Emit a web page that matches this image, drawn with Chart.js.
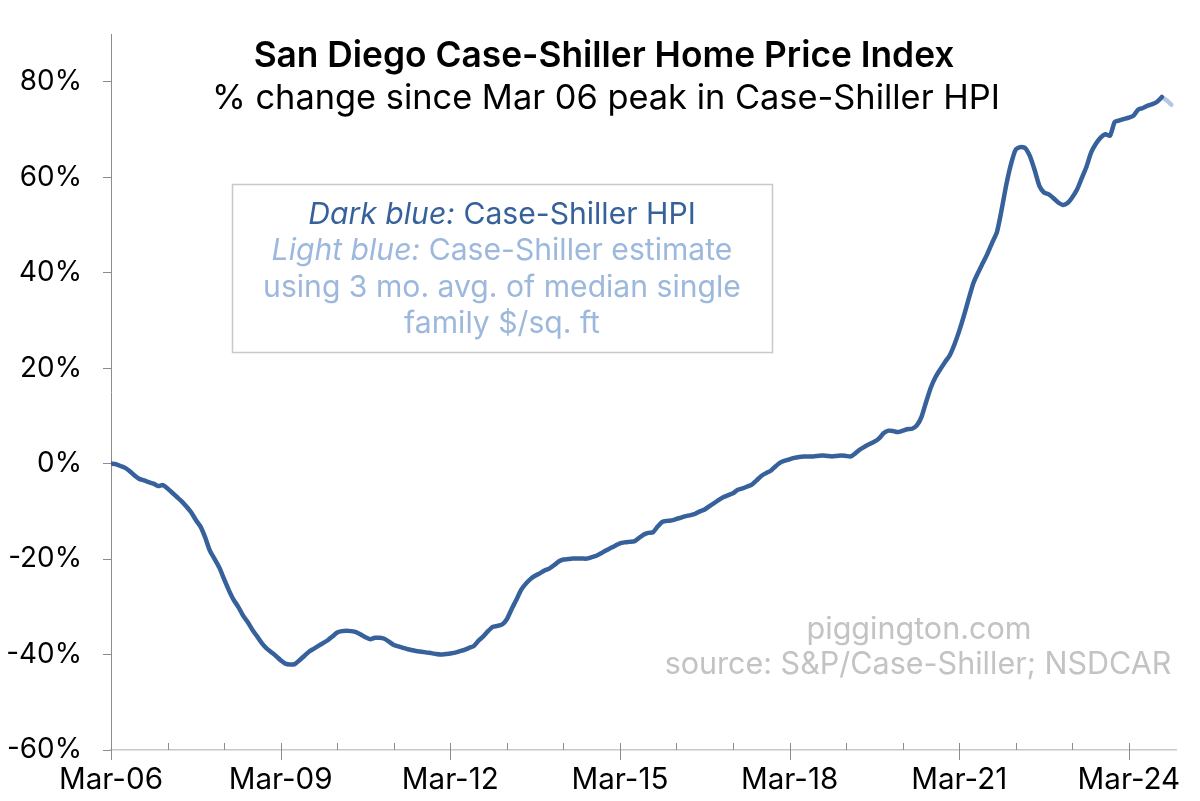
<!DOCTYPE html>
<html>
<head>
<meta charset="utf-8">
<script src="https://cdn.jsdelivr.net/npm/chart.js@4/dist/chart.umd.min.js"></script>
<style>
html,body{margin:0;padding:0;background:#fff;}
#wrap{width:1200px;height:801px;position:relative;}
</style>
</head>
<body>
<div id="wrap"><canvas id="c" width="1200" height="801"></canvas></div>
<script>
// ---------- DATA ----------
const startYear = 2006, startMonthIdx = 2; // March 2006
const monthNames = ['Jan','Feb','Mar','Apr','May','Jun','Jul','Aug','Sep','Oct','Nov','Dec'];
const categories = [];
for (let i = 0; i <= 226; i++) {
  const m = (startMonthIdx + i) % 12, y = startYear + Math.floor((startMonthIdx + i) / 12);
  categories.push(monthNames[m] + '-' + String(y % 100).padStart(2, '0'));
}
// Case-Shiller HPI, % change since Mar 06 peak (monthly, Mar-06 .. Oct-24)
const hpi = [
  0.0,-0.1,-0.5,-0.9,-1.6,-2.5,-3.2,-3.5,-3.9,-4.2,-4.7,-4.5,
  -5.2,-6.1,-7.0,-7.9,-9.0,-10.2,-11.8,-13.2,-15.5,-18.3,-20.0,-21.8,
  -24.2,-26.5,-28.5,-30.0,-31.8,-33.2,-34.8,-36.2,-37.6,-38.7,-39.5,-40.3,
  -41.2,-41.9,-42.1,-42.0,-41.2,-40.3,-39.4,-38.8,-38.2,-37.6,-37.0,-36.2,
  -35.4,-35.1,-35.0,-35.1,-35.3,-35.8,-36.4,-36.8,-36.5,-36.5,-36.7,-37.3,
  -38.0,-38.3,-38.6,-38.9,-39.1,-39.3,-39.4,-39.6,-39.7,-39.9,-40.0,-39.9,
  -39.8,-39.6,-39.3,-39.0,-38.6,-38.2,-37.1,-36.2,-35.1,-34.2,-34.0,-33.7,
  -32.6,-30.5,-28.6,-26.5,-25.2,-24.2,-23.5,-23.0,-22.4,-22.0,-21.3,-20.5,
  -20.1,-20.0,-19.9,-19.9,-19.9,-19.9,-19.6,-19.3,-18.8,-18.2,-17.7,-17.2,
  -16.7,-16.5,-16.4,-16.3,-15.6,-14.9,-14.5,-14.4,-13.2,-12.2,-12.0,-11.9,
  -11.6,-11.3,-11.0,-10.8,-10.5,-10.0,-9.6,-8.9,-8.3,-7.6,-7.0,-6.6,
  -6.2,-5.5,-5.2,-4.8,-4.4,-3.5,-2.6,-2.0,-1.5,-0.6,0.2,0.6,
  0.9,1.2,1.4,1.5,1.5,1.5,1.6,1.7,1.6,1.5,1.6,1.7,
  1.6,1.5,2.2,3.0,3.6,4.1,4.6,5.3,6.4,6.9,6.8,6.6,
  6.9,7.2,7.3,8.0,9.8,13.0,16.0,18.2,19.8,21.3,22.7,25.0,
  27.8,31.0,34.5,37.8,40.0,42.0,44.0,46.3,48.5,53.2,58.5,62.8,
  65.8,66.3,66.1,64.4,61.5,58.2,56.8,56.4,55.6,54.7,54.2,54.6,
  55.8,57.4,59.8,62.2,65.2,67.0,68.3,69.0,68.7,71.6,71.9,72.2,
  72.5,72.9,74.2,74.5,75.0,75.3,75.8,76.8
];
// Estimate from 3 mo. avg. of median single family $/sq. ft (Oct-24 .. Dec-24)
const estimateStart = 223;
const estimate = [76.8, 76.1, 75.2];
const xTickLabels = ['Mar-06','Mar-09','Mar-12','Mar-15','Mar-18','Mar-21','Mar-24'];
const yTicks = [-60,-40,-20,0,20,40,60,80];

// ---------- STYLE ----------
const DARK = '#37619a';
const LIGHT = '#b3c8e4';
const LIGHT_TXT = '#9db8dd';
const FONT = 'Inter, "Noto Sans", sans-serif';

const mcan = document.createElement('canvas').getContext('2d');
function fit(text, weight, style, target) {
  mcan.font = `${style} ${weight} 100px ${FONT}`;
  return 100 * target / mcan.measureText(text).width;
}
const yTickSize = fit('-60%', 400, 'normal', 75);
const xTickSize = fit('Mar-06', 400, 'normal', 104);

const hpiData = hpi.map((v, i) => ({x: i, y: v}));
const estData = estimate.map((v, i) => ({x: estimateStart + i, y: v}));

const overlay = {
  id: 'overlay',
  afterDraw(chart) {
    const ctx = chart.ctx;
    const xs = chart.scales.x, ys = chart.scales.y;
    ctx.save();
    // x-axis tick marks (yearly minor, 3-yearly major)
    ctx.strokeStyle = '#8c8c8c';
    ctx.lineWidth = 1;
    const b = chart.chartArea.bottom;
    for (let i = 0; i <= 226; i += 12) {
      const x = Math.round(xs.getPixelForValue(i)) + 0.5;
      ctx.beginPath();
      if (i % 36 === 0) { ctx.moveTo(x, i === 0 ? b : b - 7); ctx.lineTo(x, b + 10); }
      else { ctx.moveTo(x, b - 7); ctx.lineTo(x, b); }
      ctx.stroke();
    }
    // Title
    ctx.fillStyle = '#000';
    ctx.textAlign = 'center';
    ctx.textBaseline = 'middle';
    const t1 = 'San Diego Case-Shiller Home Price Index';
    const t2 = '% change since Mar 06 peak in Case-Shiller HPI';
    ctx.font = `600 ${fit(t1, 600, 'normal', 701)}px ${FONT}`;
    ctx.fillText(t1, 604, 56);
    ctx.font = `400 ${fit(t2, 400, 'normal', 788)}px ${FONT}`;
    ctx.fillText(t2, 606, 99);

    // Legend box
    ctx.fillStyle = '#fff';
    ctx.fillRect(232, 184, 540, 168);
    ctx.strokeStyle = '#c8c8c8';
    ctx.lineWidth = 1.5;
    ctx.strokeRect(232.5, 184.5, 540, 168);
    const lines = [
      [['Dark blue:', 'italic', DARK], [' Case-Shiller HPI', 'normal', DARK]],
      [['Light blue:', 'italic', LIGHT_TXT], [' Case-Shiller estimate', 'normal', LIGHT_TXT]],
      [['using 3 mo. avg. of median single', 'normal', LIGHT_TXT]],
      [['family $/sq. ft', 'normal', LIGHT_TXT]]
    ];
    const lsz = fit('using 3 mo. avg. of median single', 400, 'normal', 478);
    const lys = [215, 251, 288, 324];
    ctx.textAlign = 'left';
    lines.forEach((parts, li) => {
      let total = 0;
      parts.forEach(p => { ctx.font = `${p[1]} 400 ${lsz}px ${FONT}`; total += ctx.measureText(p[0]).width; });
      let x = 502 - total / 2;
      parts.forEach(p => {
        ctx.font = `${p[1]} 400 ${lsz}px ${FONT}`;
        ctx.fillStyle = p[2];
        ctx.fillText(p[0], x, lys[li]);
        x += ctx.measureText(p[0]).width;
      });
    });

    // watermark
    ctx.textAlign = 'center';
    ctx.fillStyle = '#c3c3c3';
    const w2 = 'source: S&P/Case-Shiller; NSDCAR';
    const wsz = fit(w2, 400, 'normal', 507);
    ctx.font = `400 ${wsz}px ${FONT}`;
    ctx.fillText('piggington.com', 919, 630);
    ctx.fillText(w2, 918, 665);
    ctx.restore();
  }
};

new Chart(document.getElementById('c'), {
  type: 'line',
  data: {
    labels: categories,
    datasets: [
      { label: 'Estimate', data: estData, borderColor: LIGHT, borderWidth: 4.5, pointRadius: 0,
        tension: 0.2, borderCapStyle: 'round', borderJoinStyle: 'round', order: 2 },
      { label: 'Case-Shiller HPI', data: hpiData, borderColor: DARK, borderWidth: 4.5, pointRadius: 0,
        tension: 0.2, borderCapStyle: 'round', borderJoinStyle: 'round', order: 1 }
    ]
  },
  options: {
    responsive: false,
    animation: false,
    events: [],
    layout: { padding: { top: 34, right: 24, left: 0, bottom: 0 } },
    plugins: { legend: { display: false }, tooltip: { enabled: false }, title: { display: false } },
    scales: {
      x: {
        type: 'linear', min: 0, max: 226,
        afterBuildTicks: s => { s.ticks = xTickLabels.map((_, i) => ({ value: i * 36 })); },
        afterFit: s => { s.height = 51; s.paddingLeft = 0; s.paddingRight = 0; },
        grid: { display: true, drawOnChartArea: false, drawTicks: false, color: 'rgba(0,0,0,0)' },
        border: { display: true, color: '#c8c8c8', width: 1.5 },
        ticks: { autoSkip: false, maxRotation: 0, padding: 12, color: '#000',
          font: { family: FONT, size: xTickSize },
          callback: (v) => xTickLabels[Math.round(v / 36)] }
      },
      y: {
        min: -60, max: 90,
        afterBuildTicks: s => { s.ticks = yTicks.map(v => ({ value: v })); },
        afterFit: s => { s.width = 111; s.paddingTop = 0; s.paddingBottom = 0; },
        grid: { drawOnChartArea: false, drawTicks: true, tickLength: 8, color: '#8c8c8c' },
        border: { display: true, color: '#8c8c8c', width: 1 },
        ticks: { padding: 21, color: '#000', font: { family: FONT, size: yTickSize },
          callback: v => v + '%' }
      }
    }
  },
  plugins: [overlay]
});
</script>
</body>
</html>
